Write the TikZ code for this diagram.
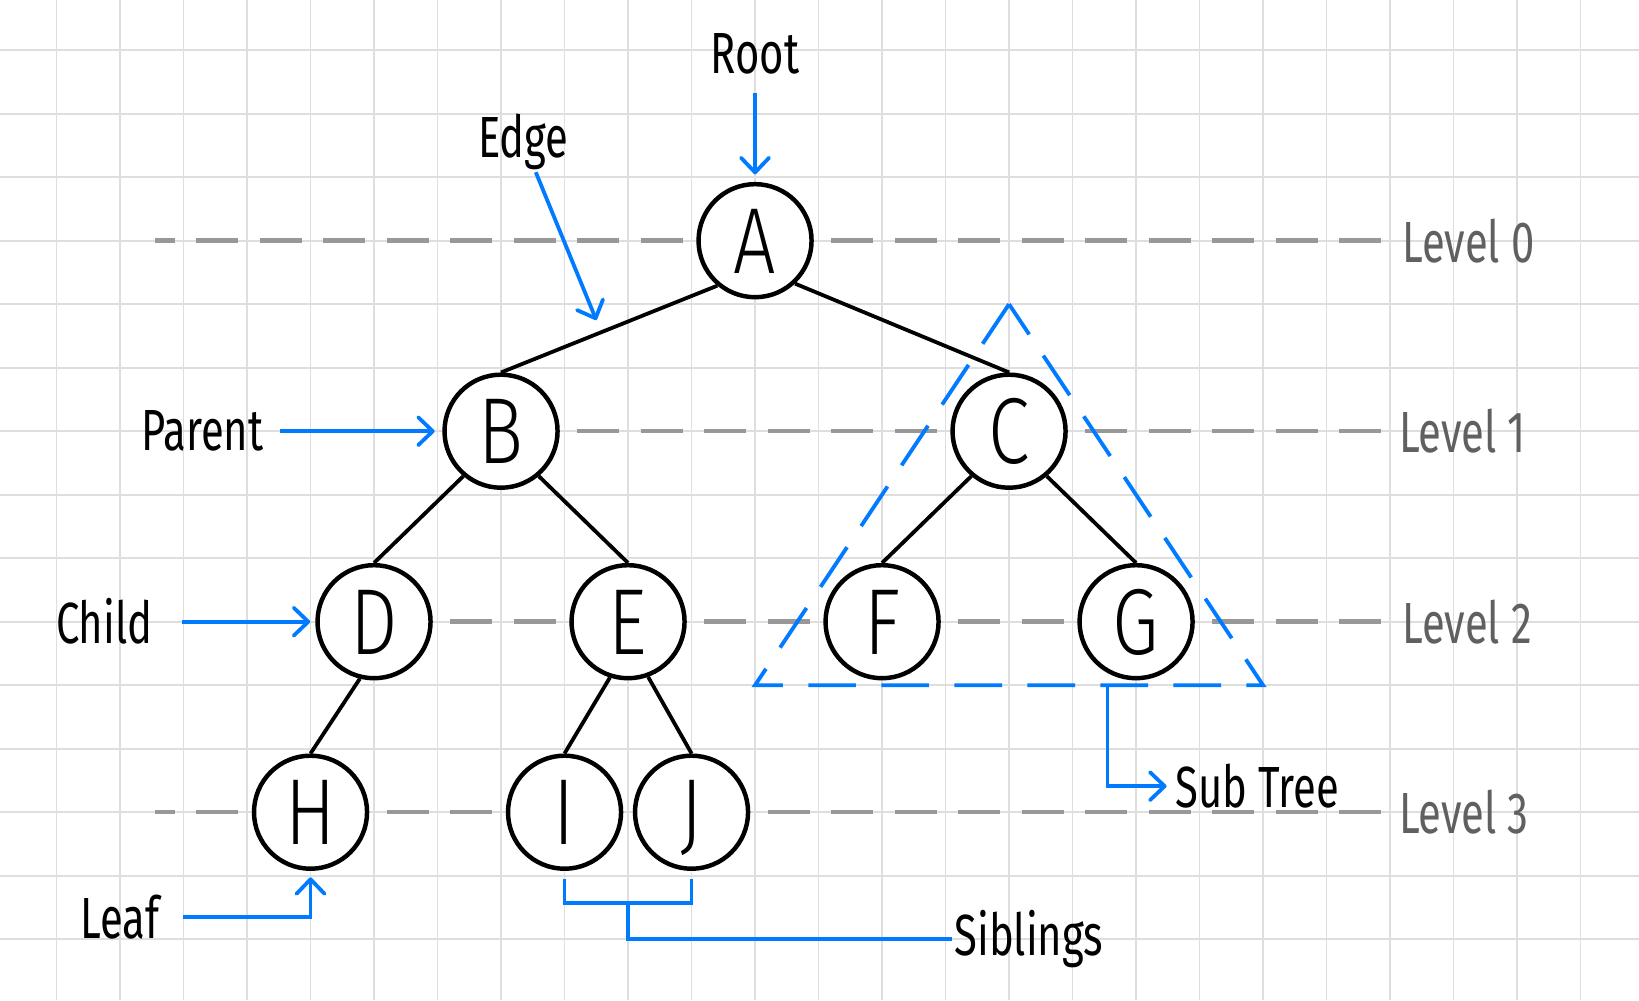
\documentclass[tikz,border=0pt]{standalone}
\usepackage{fontspec}
\usetikzlibrary{arrows.meta}
\newfontfamily\handfont{Fira Sans}[FakeStretch=0.72]
\newfontfamily\keyfont{Fira Sans Light}[FakeStretch=0.8]
\definecolor{penblue}{RGB}{0,122,255}
\definecolor{guidegray}{RGB}{152,152,152}
\definecolor{levelink}{RGB}{96,96,96}
\definecolor{papergrid}{RGB}{222,222,222}
\begin{document}
\begin{tikzpicture}[
  every node/.style={font={\handfont\fontsize{26pt}{30pt}\selectfont}},
  treenode/.style={circle, draw, fill=white, line width=2pt, minimum size=1.78cm, inner sep=0pt,
    text height=29pt, text depth=0pt, font={\keyfont\fontsize{42pt}{46pt}\selectfont}},
  branch/.style={line width=1.7pt},
  note/.style={inner sep=1pt},
  levelnote/.style={inner sep=1pt, anchor=west, text=levelink},
  levelline/.style={draw=guidegray, line width=2pt, dash pattern=on 0.66cm off 0.34cm},
  pointer/.style={draw=penblue, line width=1.7pt, -{Straight Barb[length=2.3mm, width=4.4mm, round]}},
  bracket/.style={draw=penblue, line width=1.7pt},
  subtri/.style={draw=penblue, line width=1.7pt, dash pattern=on 0.75cm off 0.4cm}]

  \fill[white] (-0.89,-14.96) rectangle (24.92,0.79);
  \useasboundingbox (-0.89,-14.96) rectangle (24.92,0.79);
  \draw[papergrid, line width=0.8pt] (-0.89,-14.96) grid (24.92,0.79);

  \node[levelnote] (lvl0) at (21.15,-3) {Level 0};
  \node[levelnote] (lvl1) at (21.1,-6) {Level 1};
  \node[levelnote] (lvl2) at (21.15,-9) {Level 2};
  \node[levelnote] (lvl3) at (21.1,-12) {Level 3};
  \draw[levelline, dash phase=0.35cm] (1.55,-3) -- ([xshift=-0.2cm]lvl0.west);
  \draw[levelline] (8.2,-6) -- ([xshift=-0.15cm]lvl1.west);
  \draw[levelline] (6.2,-9) -- ([xshift=-0.2cm]lvl2.west);
  \draw[levelline, dash phase=0.35cm] (1.55,-12) -- ([xshift=-0.15cm]lvl3.west);

  \draw[subtri] (15,-4) -- (11,-10) -- (19,-10) -- cycle;

  \node[treenode] (A) at (11,-3) {A};
  \node[treenode] (B) at (7,-6) {B};
  \node[treenode] (C) at (15,-6) {C};
  \node[treenode] (D) at (5,-9) {D};
  \node[treenode] (E) at (9,-9) {E};
  \node[treenode] (F) at (13,-9) {F};
  \node[treenode] (G) at (17,-9) {G};
  \node[treenode] (H) at (4,-12) {H};
  \node[treenode] (I) at (8,-12) {I};
  \node[treenode] (J) at (10,-12) {J};

  \draw[branch] (A.230) -- (B.north);
  \draw[branch] (A.-47) -- (C.north);
  \draw[branch] (B.230) -- (D.north);
  \draw[branch] (B.-50) -- (E.north);
  \draw[branch] (C.230) -- (F.north);
  \draw[branch] (C.-50) -- (G.north);
  \draw[branch] (D.-104) -- (H.north);
  \draw[branch] (E.-108) -- (I.north);
  \draw[branch] (E.-70) -- (J.north);

  \node[note, anchor=base] (root) at (11,-0.36) {Root};
  \draw[pointer, shorten <=0.26cm, shorten >=0.12cm] (root) -- (A);
  \node[note, anchor=base] (edgelbl) at (7.35,-1.685) {Edge};
  \coordinate (edgetip) at (8.5,-4.25);
  \draw[pointer] (edgelbl) -- (edgetip);
  \node[note, anchor=east] (parent) at (3.3,-6) {Parent};
  \draw[pointer, shorten <=0.22cm, shorten >=0.12cm] (parent) -- (B);
  \node[note, anchor=east] (child) at (1.55,-9) {Child};
  \draw[pointer, shorten <=0.43cm, shorten >=0.08cm] (child) -- (D);
  \node[note, anchor=east] (leaf) at (1.66,-13.65) {Leaf};
  \draw[pointer, shorten <=0.33cm, shorten >=0.1cm] (leaf.east) -| (H.south);

  \coordinate (sibbar) at (9,-13.43);
  \draw[bracket] ([yshift=-0.12cm]I.south) |- (sibbar) -| ([yshift=-0.12cm]J.south);
  \node[note, anchor=west] (siblings) at (14.1,-14.0) {Siblings};
  \draw[bracket] (sibbar) |- (siblings.west);

  \coordinate (stfoot) at (16.55,-10);
  \node[note, anchor=west] (subtree) at (17.58,-11.59) {Sub Tree};
  \draw[pointer, shorten >=0.1cm] (stfoot) |- (subtree.west);
\end{tikzpicture}
\end{document}
